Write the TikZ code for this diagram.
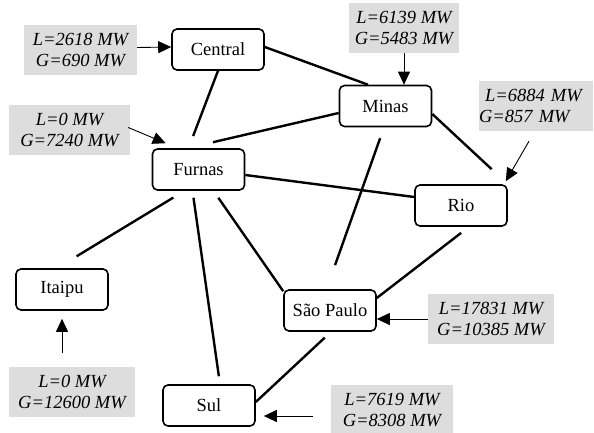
\documentclass[tikz,border=0pt]{standalone}
\usepackage{fontspec}
\setmainfont{Liberation Serif}
\usepackage{xcolor}
\usepackage{tikz}
\usetikzlibrary{positioning, arrows.meta}

\begin{document}
\begin{tikzpicture}[x=1pt, y=-1pt,
        area/.style={rectangle, draw, line width=1.6pt, rounded corners=5pt, minimum width=92pt, minimum height=41pt, inner sep=0pt, font=\fontsize{18.5}{21}\selectfont},
        load/.style={rectangle, fill=gray!27, inner sep=0pt, minimum height=50pt, align=center, font=\fontsize{18.5}{21.5}\selectfont\itshape},
        tie/.style={line width=2.4pt},
        feed/.style={-{Triangle[length=13pt,width=12pt]}, line width=0.9pt}]

        \useasboundingbox (0,0) rectangle (594,433);

        \node[area] (central) at (218,49.5) {Central};
        \node[area] (furnas) at (198.5,169.5) {Furnas};
        \node[area] (minas) at (385.5,106) {Minas};
        \node[area] (rio) at (461,205.5) {Rio};
        \node[area] (itaipu) at (62,289.5) {Itaipu};
        \node[area] (sp) at (330,310.5) {São Paulo};
        \node[area] (sul) at (209,405.5) {Sul};

        \node[load, minimum width=113pt] (clbl) at (80.5,50) {L=2618 MW\\G=690 MW};
        \node[load, minimum width=121pt] (flbl) at (69.5,130) {L=0 MW\\G=7240 MW};
        \node[load, minimum width=110pt] (mlbl) at (404,28) {L=6139 MW\\G=5483 MW};
        \node[load, text width=114pt, align=left] (rlbl) at (536,106) {\hspace*{6pt}L=6884 MW\\G=857 MW};
        \node[load, minimum width=126pt] (splbl) at (491,319) {L=17831 MW\\G=10385 MW};
        \node[load, minimum width=122pt] (slbl) at (392,410) {L=7619 MW\\G=8308 MW};
        \node[load, minimum width=126pt] (ilbl) at (72,392) {L=0 MW\\G=12600 MW};

        \draw[tie] ([yshift=2.5pt]central.east) -- ([xshift=-17.5pt]minas.north);
        \draw[tie, shorten >=13pt] (central.south) -- ([xshift=-10pt]furnas.north);
        \draw[tie] ([xshift=14.5pt,yshift=6pt]furnas.north) -- ([yshift=-7pt]minas.west);
        \draw[tie] ([yshift=-5.5pt]furnas.east) -- ([yshift=8.5pt]rio.west);
        \draw[tie, shorten >=22pt] ([yshift=-8pt]minas.east) -- (rio.north east);
        \draw[tie, shorten <=11.5pt, shorten >=25.5pt] ([xshift=-1.5pt]minas.south) -- ([xshift=-3.5pt]sp.north);
        \draw[tie, shorten <=10pt] ([xshift=8pt]rio.south) -- ([yshift=12.5pt]sp.east);
        \draw[tie, shorten <=8.5pt] ([xshift=15pt]furnas.south) -- ([yshift=-2pt]sp.north west);
        \draw[tie, shorten <=7pt, shorten >=8pt] ([xshift=-6pt]furnas.south) -- ([xshift=11pt]sul.north);
        \draw[tie, shorten <=13pt, shorten >=23pt] ([xshift=-14pt]furnas.south) -- ([xshift=-5pt]itaipu.north);
        \draw[tie, shorten <=8.5pt] ([xshift=1pt]sp.south) -- ([yshift=3.5pt]sul.east);

        \draw[feed] ([yshift=2.5pt]clbl.east) -- ([yshift=2.5pt]central.west);
        \draw[feed] ([xshift=-2pt,yshift=2.5pt]flbl.east) -- ([xshift=14pt,yshift=5pt]furnas.north west);
        \draw[feed] (mlbl.south) -- ([xshift=18.5pt]minas.north);
        \draw[feed] ([xshift=-7pt,yshift=-10pt]rlbl.south) -- ([xshift=-2pt,yshift=3pt]rio.north east);
        \draw[feed] (splbl.west) -- ([yshift=-8.5pt]sp.east);
        \draw[feed] ([xshift=-18pt,yshift=-6pt]slbl.west) -- ([xshift=8pt,yshift=-10.5pt]sul.east);
        \draw[feed] ([xshift=-10pt,yshift=14pt]ilbl.north) -- ([yshift=-8pt]itaipu.south);
      \end{tikzpicture}
\end{document}
